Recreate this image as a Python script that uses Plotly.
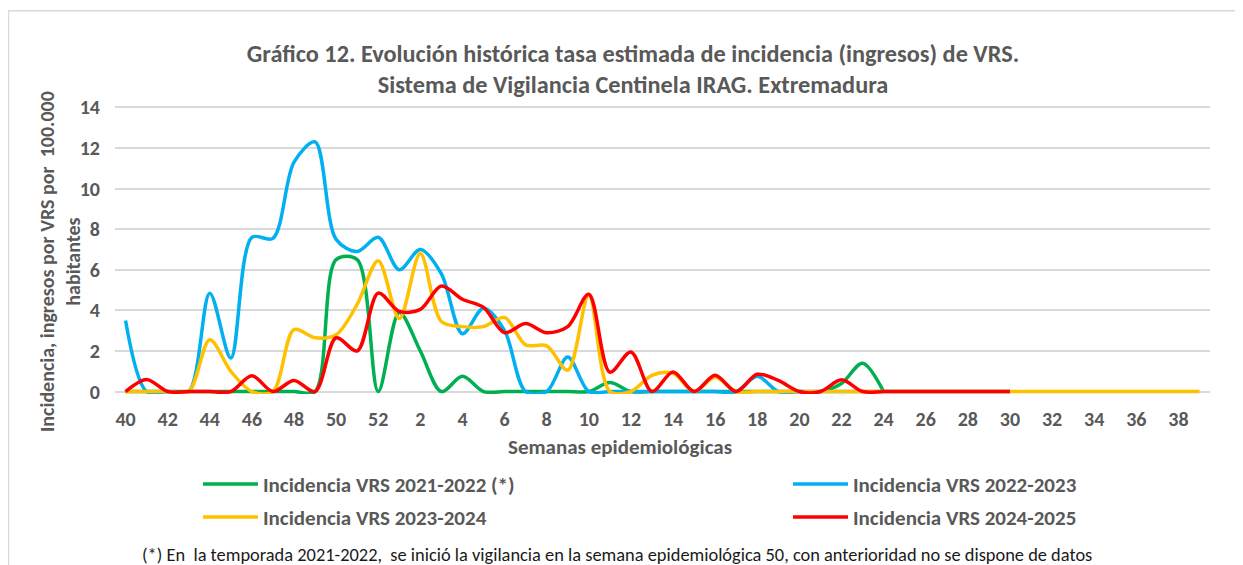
import plotly.graph_objects as go

# ---------------- data ----------------
weeks = list(range(40, 53)) + list(range(1, 40))          # 52 epidemiological weeks
tick_labels = [str(w) for w in weeks]

green_2122 = [0, 0, 0, 0, 0, 0, 0, 0, 0, 0,                 # 40-49
              6.5, 6.5, 0,                                  # 50-52
              3.9, 2.0, 0, 0.75, 0, 0, 0, 0, 0, 0,          # 1-10
              0.45, 0, 0, 0, 0, 0, 0, 0, 0, 0,              # 11-20
              0, 0.4, 1.4, 0] + [None] * 15                 # 21-24, 25-39

blue_2223 = [3.5, 0, 0, 0, 4.85, 1.65, 7.6, 7.55, 11.3, 12.3,
             7.5, 6.9, 7.6,
             6.0, 7.0, 5.8, 2.85, 4.1, 3.0, 0, 0, 1.7, 0,
             0, 0, 0, 0, 0, 0, 0, 0.75, 0, 0,
             0, 0, 0, 0, 0, 0, 0, 0, 0, 0] + [None] * 9

yellow_2324 = [0, 0, 0, 0, 2.55, 1.0, 0, 0, 3.05, 2.65,
               2.8, 4.3, 6.45,
               3.6, 6.8, 3.45, 3.2, 3.2, 3.65, 2.3, 2.25, 1.05, 4.75,
               0, 0, 0.8, 0.9, 0, 0.7, 0, 0, 0, 0,
               0, 0, 0, 0, 0, 0, 0, 0, 0, 0,
               0, 0, 0, 0, 0, 0, 0, 0, 0]

red_2425 = [0, 0.6, 0, 0, 0, 0, 0.78, 0, 0.55, 0,
            2.65, 2.0, 4.85,
            3.95, 4.05, 5.2, 4.55, 4.15, 2.9, 3.35, 2.9, 3.2, 4.8,
            0.95, 1.95, 0, 0.97, 0, 0.8, 0, 0.85, 0.55, 0,
            0, 0.58, 0, 0, 0, 0, 0, 0, 0, 0] + [None] * 9

series_names = ["Incidencia VRS 2021-2022 (*)", "Incidencia VRS 2022-2023",
                "Incidencia VRS 2023-2024", "Incidencia VRS 2024-2025"]
series_values = [green_2122, blue_2223, yellow_2324, red_2425]
series_colors = ["#00B050", "#00B0F0", "#FFC000", "#FF0000"]

y_ticks = [0, 2, 4, 6, 8, 10, 12, 14]

# ---------------- layout geometry ----------------
OFF = 8                      # default body margin of the html page
W, H = 1243 - OFF, 565 - OFF
L = 115 - OFF
R = W - (1210 - OFF)
T = 104.6 - OFF
B = H - (394.4 - OFF)
FONT = "Carlito, Calibri, Lato, sans-serif"
GREY = "#595959"


def fx(px):   # reference-pixel x -> paper x
    return (px - OFF - L) / (W - L - R)


def fy(py):   # reference-pixel y -> paper y
    return (H - B - (py - OFF)) / (H - T - B)


x_idx = list(range(len(weeks)))
legend_ids = ["legend", "legend2", "legend3", "legend4"]
fig = go.Figure()
for name, vals, col, lg in zip(series_names, series_values, series_colors, legend_ids):
    fig.add_trace(go.Scatter(
        x=x_idx, y=vals, name=name, mode="lines",
        line=dict(color=col, width=3.5, shape="spline", smoothing=0.9),
        legend=lg, connectgaps=False,
    ))

legend_pos = {"legend": (198, 485), "legend2": (788, 485),
              "legend3": (198, 518), "legend4": (788, 518)}
legends = {}
for lg, (lx, ly) in legend_pos.items():
    legends[lg] = dict(x=fx(lx), y=fy(ly), xanchor="left", yanchor="middle",
                       orientation="h", bgcolor="rgba(0,0,0,0)", itemwidth=55,
                       font=dict(family=FONT, size=21, color=GREY, weight="bold"))

fig.update_layout(
    width=W, height=H,
    margin=dict(l=L, r=R, t=T, b=B, autoexpand=False),
    paper_bgcolor="white", plot_bgcolor="white",
    font=dict(family=FONT, size=20, color=GREY),
    title=dict(
        text="<b>Gráfico 12. Evolución histórica tasa estimada de incidencia (ingresos) de VRS.<br>"
             "Sistema de Vigilancia Centinela IRAG. Extremadura</b>",
        x=(633 - OFF) / W, xanchor="center", y=1 - (61.5 - OFF) / H, yanchor="middle",
        font=dict(family=FONT, size=24.3, color=GREY),
    ),
    xaxis=dict(
        range=[-0.5, len(weeks) - 0.5],
        tickmode="array", tickvals=x_idx[::2], ticktext=tick_labels[::2],
        showgrid=False, zeroline=False, showline=False, ticks="",
        tickfont=dict(family=FONT, size=20, color=GREY, weight="bold"),
        ticklabelstandoff=11,
    ),
    yaxis=dict(
        range=[-0.12, 14.12], tickmode="array", tickvals=y_ticks,
        showgrid=True, gridcolor="#D9D9D9", gridwidth=1.5, zeroline=False,
        showline=False, ticks="",
        tickfont=dict(family=FONT, size=20, color=GREY, weight="bold"),
        ticklabelstandoff=14,
    ),
    showlegend=True,
    **legends,
)

# axis titles and footnote
fig.add_annotation(text="<b>Incidencia, ingresos por VRS por  100.000<br>habitantes</b>",
                   textangle=-90, xref="paper", yref="paper",
                   x=fx(60), y=fy(262), xanchor="center", yanchor="middle",
                   showarrow=False, font=dict(family=FONT, size=20, color=GREY))
fig.add_annotation(text="<b>Semanas epidemiológicas</b>", xref="paper", yref="paper",
                   x=fx(620), y=fy(448), xanchor="center", yanchor="middle",
                   showarrow=False, font=dict(family=FONT, size=21, color=GREY))
fig.add_annotation(text="(*) En  la temporada 2021-2022,  se inició la vigilancia en la semana epidemiológica 50, con anterioridad no se dispone de datos",
                   xref="paper", yref="paper",
                   x=fx(617), y=fy(555), xanchor="center", yanchor="middle",
                   showarrow=False, font=dict(family=FONT, size=18.4, color="#1a1a1a"))

# outer chart border (extends beyond the right and bottom edges like the reference)
fig.add_shape(type="rect", xref="paper", yref="paper",
              x0=fx(8.5), x1=fx(1300), y0=fy(620), y1=fy(10),
              line=dict(color="#D9D9D9", width=1.5), fillcolor="rgba(0,0,0,0)", layer="below")

fig.write_html("out.html")
